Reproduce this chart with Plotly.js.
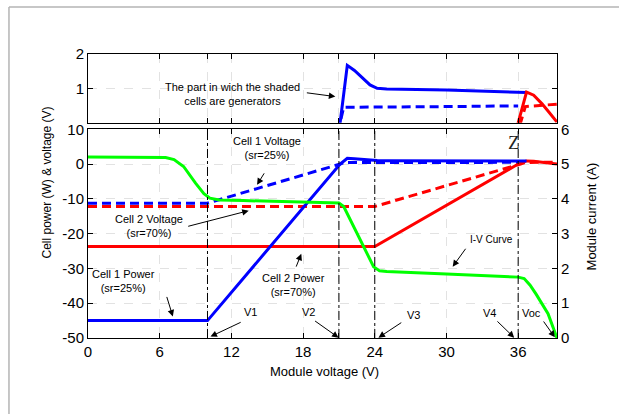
<!DOCTYPE html>
<html>
<head>
<meta charset="utf-8">
<script src="https://cdn.plot.ly/plotly-3.0.1.min.js"></script>
<style>
  html, body { margin: 0; padding: 0; background: #ffffff; }
  #chart { width: 619px; height: 414px; }
</style>
</head>
<body>
<div id="chart"></div>
<script>
// ---- Data ----
// Cell 1 power (W), shading ratio 25% (blue solid, left axis)
const cell1PowerV = [0, 10, 21.1, 21.7, 22.3, 23.0, 23.6, 24.2, 25, 30, 36, 36.7];
const cell1PowerW = [-45, -45, 0, 1.67, 1.52, 1.3, 1.1, 1.0, 0.98, 0.95, 0.9, 0.88];

// Cell 1 voltage (V), sr = 25% (blue dashed, left axis)
const cell1VoltV = [0, 10, 21.1, 21.4, 30, 36];
const cell1VoltU = [-11.25, -11.25, 0, 0.45, 0.47, 0.49];

// Cell 2 power (W), shading ratio 70% (red solid, left axis)
const cell2PowerV = [0, 24, 36, 36.7, 37.3, 38.0, 38.6, 39.25];
const cell2PowerW = [-23.7, -23.7, 0, 0.89, 0.8, 0.55, 0.3, 0.02];

// Cell 2 voltage (V), sr = 70% (red dashed, left axis)
const cell2VoltV = [0, 24, 36.2, 36.6, 39.25];
const cell2VoltU = [-12.2, -12.2, 0, 0.47, 0.54];

// Module I-V curve (green, right axis)
const moduleV = [0, 6.5, 7.2, 8.0, 9.0, 9.7, 10.2, 11, 13, 16, 19, 21, 21.4, 21.8, 22.8, 23.9, 24.4, 25, 30, 36, 36.5, 37.0, 37.5, 38.0, 38.5, 39.25];
const moduleI = [5.2, 5.19, 5.13, 4.93, 4.45, 4.15, 4.02, 3.97, 3.95, 3.93, 3.91, 3.88, 3.78, 3.5, 2.8, 2.05, 1.93, 1.91, 1.84, 1.75, 1.71, 1.52, 1.26, 0.98, 0.7, 0];

// Ticks and marker voltages
const xTickVals = [0, 6, 10, 12, 18, 21, 24, 30, 36];
const xTickText = ['0', '6', '', '12', '18', '', '24', '30', '36'];
const leftTicks = [-50, -40, -30, -20, -10, 0, 10];
const leftTickText = ['-50', '-40', '-30', '-20', '-10', '0', '10'];
const rightTicks = [0, 1, 2, 3, 4, 5, 6];
const topTicks = [0, 1, 2];
const topTickText = ['', '1', '2'];
const markerVoltages = [10, 21, 24, 36];

// ---- Styles ----
const BLUE = '#0000ff', RED = '#ff0000', GREEN = '#00ff00';
const LW = 3;
const DASH = '9px,5px';
const FONT = 'Liberation Sans, Arial, sans-serif';

function tr(x, y, color, dash, xa, ya) {
  return { x: x, y: y, type: 'scatter', mode: 'lines', xaxis: xa, yaxis: ya,
           line: { color: color, width: LW, dash: dash }, hoverinfo: 'skip', showlegend: false };
}

const traces = [
  // main plot
  tr(moduleV, moduleI, GREEN, 'solid', 'x', 'y2'),
  tr(cell2VoltV, cell2VoltU, RED, DASH, 'x', 'y'),
  tr(cell1VoltV, cell1VoltU, BLUE, DASH, 'x', 'y'),
  tr(cell2PowerV, cell2PowerW, RED, 'solid', 'x', 'y'),
  tr(cell1PowerV, cell1PowerW, BLUE, 'solid', 'x', 'y'),
  // zoomed top plot (same data)
  tr(cell1VoltV, cell1VoltU, BLUE, DASH, 'x2', 'y3'),
  tr(cell2VoltV, cell2VoltU, RED, DASH, 'x2', 'y3'),
  tr(cell1PowerV, cell1PowerW, BLUE, 'solid', 'x2', 'y3'),
  tr(cell2PowerV, cell2PowerW, RED, 'solid', 'x2', 'y3')
];

const axisCommon = {
  ticks: 'inside', ticklen: 5, tickcolor: '#000', showline: true, linecolor: '#000', linewidth: 1,
  zeroline: false, gridcolor: '#e2e2e2', griddash: 'dash', gridwidth: 1,
  tickfont: { family: FONT, size: 15, color: '#000' }
};
const XRANGE = [0, 39.25];

const shapes = markerVoltages.map(v => ({
  type: 'line', xref: 'x', yref: 'y', x0: v, x1: v, y0: -50, y1: 10,
  line: { color: '#000', width: 1, dash: 'dashdot' }
}));
// light grey outer frame (top and left edges)
shapes.push({ type: 'line', xref: 'paper', yref: 'paper', x0: -0.1685, x1: 1.25, y0: 1.1655, y1: 1.1655,
  line: { color: '#b4b4b4', width: 1.5 } });
shapes.push({ type: 'line', xref: 'paper', yref: 'paper', x0: -0.1685, x1: -0.1685, y0: 1.1655, y1: -0.4,
  line: { color: '#b4b4b4', width: 1.5 } });

function lbl(text, x, y, size, xr, yr) {
  return { text: text, x: x, y: y, xref: xr || 'x', yref: yr || 'y', showarrow: false,
           xanchor: 'center', yanchor: 'middle', font: { family: FONT, size: size, color: '#000' } };
}
function arr(x, y, ax, ay, xr, yr) {
  return { text: '', x: x, y: y, ax: ax, ay: ay, xref: xr || 'x', yref: yr || 'y', showarrow: true,
           arrowhead: 2, arrowsize: 1.3, arrowwidth: 1, arrowcolor: '#000' };
}

const annotations = [
  lbl('The part in wich the shaded<br>cells are generators', 12.06, 0.84, 11, 'x2', 'y3'),
  arr(20.7, 0.76, -30, -4, 'x2', 'y3'),
  lbl('Cell 1 Voltage<br>(sr=25%)', 15.0, 4.6, 11),
  arr(14.15, -5.97, 8, -13),
  lbl('Cell 2 Voltage<br>(sr=70%)', 5.1, -17.9, 11),
  arr(13.45, -13.4, -62, 16),
  lbl('Cell 1 Power<br>(sr=25%)', 3.0, -33.7, 11),
  arr(7.1, -43.8, -6.5, -21),
  lbl('Cell 2 Power<br>(sr=70%)', 17.2, -34.8, 11),
  arr(17.85, -25.8, -5.7, 14.3),
  lbl('V1', 13.6, -42.4, 11),
  arr(10.25, -49.6, 31.7, -15),
  lbl('V2', 18.46, -42.4, 11),
  arr(20.97, -49.9, -25, -17.7),
  lbl('V3', 27.23, -43.4, 11),
  arr(24.31, -49.9, 24.3, -16),
  lbl('V4', 33.64, -42.7, 11),
  arr(35.67, -49.9, -18.3, -17.7),
  lbl('Voc', 37.13, -42.7, 11),
  arr(39.07, -49.8, -12.3, -17.3),
  lbl('I-V Curve', 33.78, -21.8, 10),
  arr(30.52, -29.5, 14, -19.4),
  { text: 'Z', x: 35.65, y: 6.1, xref: 'x', yref: 'y', showarrow: false, xanchor: 'center', yanchor: 'middle',
    font: { family: 'Liberation Serif, Times New Roman, serif', size: 19, color: '#222' } },
  // axis titles
  { text: 'Module voltage (V)', x: 0.505, y: -0.1187, xref: 'paper', yref: 'paper', showarrow: false,
    xanchor: 'center', yanchor: 'middle', font: { family: FONT, size: 13, color: '#000' } },
  { text: 'Cell power (W) & voltage (V)', x: -0.0874, y: 0.5475, xref: 'paper', yref: 'paper', showarrow: false,
    textangle: -90, xanchor: 'center', yanchor: 'middle', font: { family: FONT, size: 12, color: '#000' } },
  { text: 'Module current (A)', x: 1.074, y: 0.427, xref: 'paper', yref: 'paper', showarrow: false,
    textangle: -90, xanchor: 'center', yanchor: 'middle', font: { family: FONT, size: 13, color: '#000' } }
];

const layout = {
  width: 619, height: 414,
  margin: { l: 88, r: 62, t: 54, b: 76, pad: 0 },
  paper_bgcolor: '#ffffff', plot_bgcolor: '#ffffff',
  showlegend: false,
  font: { family: FONT, color: '#000' },
  xaxis: Object.assign({}, axisCommon, { domain: [0, 1], range: XRANGE, anchor: 'y',
    tickvals: xTickVals, ticktext: xTickText, mirror: 'ticks' }),
  yaxis: Object.assign({}, axisCommon, { domain: [0, 0.735], range: [-50, 10], anchor: 'x',
    tickvals: leftTicks, ticktext: leftTickText, mirror: true }),
  yaxis2: Object.assign({}, axisCommon, { overlaying: 'y', side: 'right', range: [0, 6], anchor: 'x',
    tickvals: rightTicks, showgrid: false }),
  xaxis2: Object.assign({}, axisCommon, { domain: [0, 1], range: XRANGE, anchor: 'y3',
    tickvals: xTickVals, showticklabels: false, mirror: 'ticks' }),
  yaxis3: Object.assign({}, axisCommon, { domain: [0.758, 1], range: [0, 2], anchor: 'x2',
    tickvals: topTicks, ticktext: topTickText, mirror: 'ticks' }),
  shapes: shapes,
  annotations: annotations
};

Plotly.newPlot('chart', traces, layout, { staticPlot: true, displayModeBar: false });
</script>
</body>
</html>
